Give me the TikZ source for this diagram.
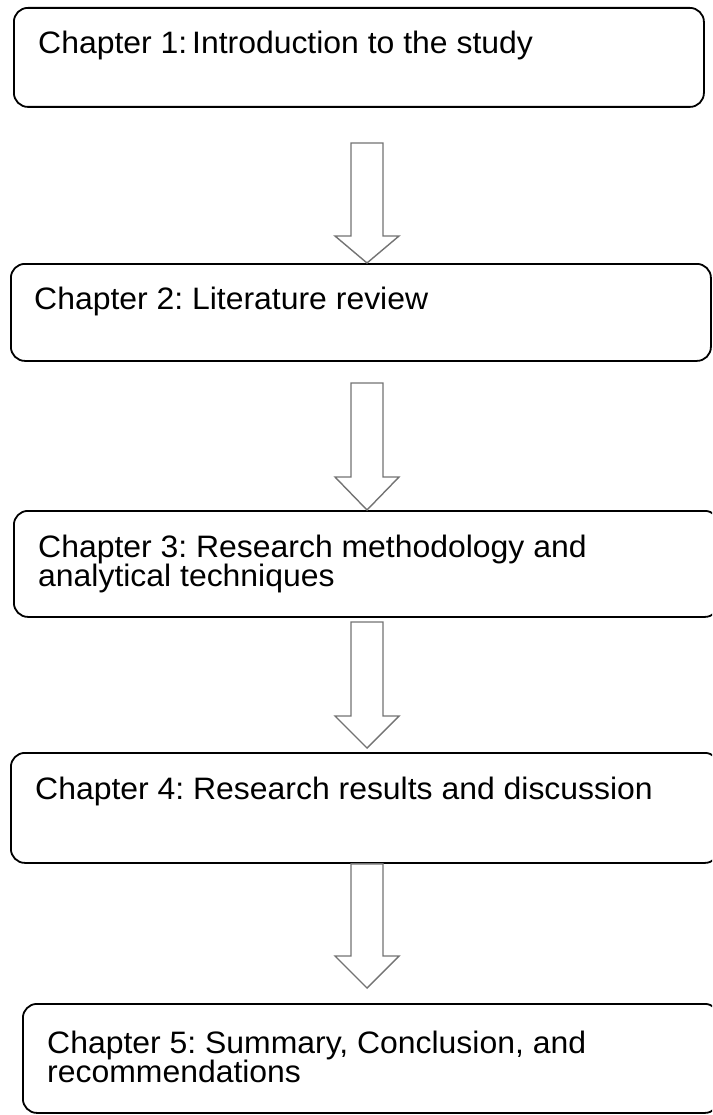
\documentclass[tikz,border=0pt]{standalone}
\usepackage{fontspec}
\setmainfont{Liberation Sans}[FakeStretch=1.03]
\usetikzlibrary{calc}
\begin{document}
\frenchspacing
\begin{tikzpicture}[x=1pt,y=-1pt,
  chapbox/.style={draw=black, line width=1.8pt, rounded corners=14pt, anchor=north west, inner sep=0pt},
  chaptext/.style={anchor=base west, inner sep=0pt, align=left, font=\frenchspacing\fontsize{31pt}{29pt}\selectfont},
  barrow/.style={draw=black!55, line width=1.4pt, fill=white, line join=miter}
]
\useasboundingbox (0,0) rectangle (712,1115);
\clip (0,0) rectangle (712,1115);
% boxes
\node[chapbox, minimum width=690pt, minimum height=99pt] (b1) at (13,7) {};
\node[chapbox, minimum width=700pt, minimum height=97pt] (b2) at (10,263) {};
\node[chapbox, minimum width=705pt, minimum height=106pt] (b3) at (13,510) {};
\node[chapbox, minimum width=708pt, minimum height=110pt] (b4) at (10,752) {};
\node[chapbox, minimum width=696pt, minimum height=109pt] (b5) at (22,1003) {};
% texts (anchor base = baseline of the last line)
\node[chaptext] (t1) at (38,54) {Chapter 1:\kern-4pt{} Introduction to the study};
\node[chaptext] (t2) at (34,309) {Chapter 2: Literature review};
\node[chaptext] (t3) at (38,586) {Chapter 3: Research methodology and\\analytical techniques};
\node[chaptext] (t4) at (35,799) {Chapter 4: Research results and discussion};
\node[chaptext] (t5) at (47,1082) {Chapter 5: Summary, Conclusion, and\\recommendations};
% arrow coordinates
\coordinate (a1s) at (367,143); \coordinate (a1h) at (367,236); \coordinate (a1t) at (b2.north -| a1s);
\coordinate (a2s) at (367,383); \coordinate (a2h) at (367,477); \coordinate (a2t) at (b3.north -| a2s);
\coordinate (a3s) at (367,622); \coordinate (a3h) at (367,716); \coordinate (a3t) at (367,748);
\coordinate (a4s) at (b4.south -| a3s); \coordinate (a4h) at (367,956); \coordinate (a4t) at (367,988);
\foreach \s/\h/\t in {a1s/a1h/a1t, a2s/a2h/a2t, a3s/a3h/a3t, a4s/a4h/a4t}{
  \draw[barrow] let \p1=(\s), \p2=(\h), \p3=(\t) in
    (\x1-16pt,\y1) -- (\x1-16pt,\y2) -- (\x1-32pt,\y2) -- (\x3,\y3)
    -- (\x1+32pt,\y2) -- (\x1+16pt,\y2) -- (\x1+16pt,\y1) -- cycle;
}
\end{tikzpicture}
\end{document}
